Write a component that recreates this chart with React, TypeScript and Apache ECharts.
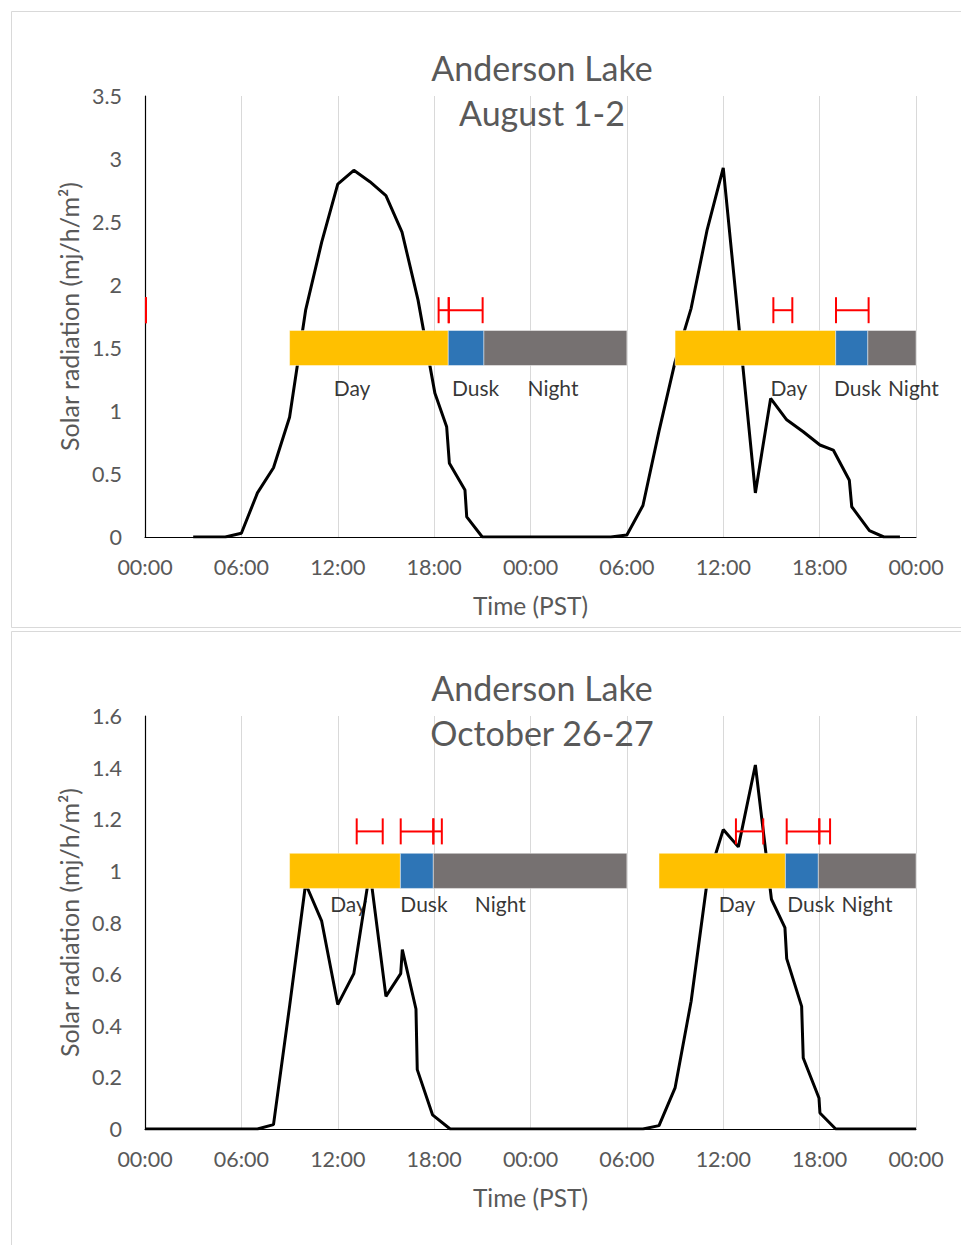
import React, { useEffect, useRef } from "react";
import * as echarts from "echarts";

// ---------- data: August 1-2 ----------
const augHours = [3, 5, 6, 7, 8, 9, 10, 11, 12, 13, 14, 15, 16, 17, 18.05, 18.78, 18.95, 19.92, 20.03, 21, 22, 29, 30, 31, 32, 33, 34, 35, 36, 38, 38.95, 39.95, 40.98, 42.02, 42.85, 43.85, 44, 45.1, 46, 47];
const augRadiation = [0, 0, 0.03, 0.35, 0.55, 0.95, 1.8, 2.34, 2.8, 2.91, 2.82, 2.71, 2.42, 1.88, 1.14, 0.875, 0.585, 0.373, 0.16, 0, 0, 0, 0.016, 0.25, 0.84, 1.39, 1.815, 2.44, 2.93, 0.35, 1.1, 0.93, 0.835, 0.73, 0.69, 0.45, 0.24, 0.05, 0, 0];

const augPhaseStart = [9.0, 18.88, 21.1, 33.0, 43.0, 45.0];
const augPhaseEnd = [18.88, 21.1, 30.0, 43.0, 45.0, 48.0];
const augPhaseName = ["Day", "Dusk", "Night", "Day", "Dusk", "Night"];
const augPhaseLevel = 1.5;
const augPhaseHalf = 0.139;

const augErrLow = [0.06, 18.28, 18.91, 39.12, 43.02];
const augErrHigh = [0.06, 18.91, 21.02, 40.3, 45.05];
const augErrLevel = 1.8;

const augLabelText = ["Day", "Dusk", "Night", "Day", "Dusk", "Night"];
const augLabelHours = [12.89, 20.58, 25.4, 40.09, 44.36, 47.84];
const augLabelLevel = 1.19;

// ---------- data: October 26-27 ----------
const octHours = [0, 7, 8, 9, 10, 11, 12, 13, 14, 15, 15.92, 16.02, 16.87, 16.95, 17.9, 19, 31, 32, 33, 34, 35, 36, 36.94, 38, 39, 39.84, 39.95, 40.88, 40.98, 41.96, 42.02, 43, 48];
const octRadiation = [0, 0, 0.017, 0.475, 0.95, 0.805, 0.482, 0.602, 1.0, 0.514, 0.602, 0.695, 0.465, 0.23, 0.055, 0, 0, 0.013, 0.159, 0.495, 0.96, 1.16, 1.093, 1.41, 0.89, 0.78, 0.66, 0.475, 0.275, 0.12, 0.062, 0, 0];

const octPhaseStart = [9.0, 15.9, 17.95, 32.0, 39.87, 41.92];
const octPhaseEnd = [15.9, 17.95, 30.0, 39.87, 41.92, 48.0];
const octPhaseName = ["Day", "Dusk", "Night", "Day", "Dusk", "Night"];
const octPhaseLevel = 1.0;
const octPhaseHalf = 0.068;

const octErrLow = [13.18, 15.92, 17.95, 36.79, 39.95, 41.98];
const octErrHigh = [14.8, 17.95, 18.48, 38.49, 41.98, 42.65];
const octErrLevel = 1.153;

const octLabelText = ["Day", "Dusk", "Night", "Day", "Dusk", "Night"];
const octLabelHours = [12.67, 17.37, 22.12, 36.86, 41.46, 44.95];
const octLabelLevel = 0.873;

// ---------- styling ----------
const FONT = "Lato";
const GREY_TEXT = "#595959";
const BORDER = "#d9d9d9";
const phaseColors: Record<string, string> = { Day: "#FFC000", Dusk: "#2E75B6", Night: "#767171" };

const zip = (xs: number[], ys: number[]) => xs.map((x, i) => [x, ys[i]]);

function hourLabel(v: number) {
  const h = v % 24;
  return (h < 10 ? "0" : "") + h + ":00";
}

function phaseSeries(idx: number, starts: number[], ends: number[], names: string[], level: number, half: number) {
  return {
    type: "custom",
    xAxisIndex: idx,
    yAxisIndex: idx,
    z: 3,
    encode: { x: [0, 1], y: 2 },
    data: starts.map((s, i) => [s, ends[i], level, half]),
    renderItem: (params: any, api: any) => {
      const s = api.value(0);
      const e = api.value(1);
      const lv = api.value(2);
      const hf = api.value(3);
      const name = names[params.dataIndex];
      const p1 = api.coord([s, lv + hf]);
      const p2 = api.coord([e, lv - hf]);
      return {
        type: "rect",
        shape: { x: p1[0], y: p1[1], width: p2[0] - p1[0], height: p2[1] - p1[1] },
        style: { fill: phaseColors[name], stroke: "rgba(255,255,255,0.6)", lineWidth: 0.75 },
      };
    },
  };
}

function errorSeries(idx: number, lows: number[], highs: number[], level: number) {
  return {
    type: "custom",
    xAxisIndex: idx,
    yAxisIndex: idx,
    z: 4,
    encode: { x: [0, 1], y: 2 },
    data: lows.map((l, i) => [l, highs[i], level]),
    renderItem: (params: any, api: any) => {
      const a = api.coord([api.value(0), api.value(2)]);
      const b = api.coord([api.value(1), api.value(2)]);
      const cap = 13;
      const st = { stroke: "#FF0000", lineWidth: 2 };
      return {
        type: "group",
        children: [
          { type: "line", shape: { x1: a[0], y1: a[1], x2: b[0], y2: b[1] }, style: st },
          { type: "line", shape: { x1: a[0], y1: a[1] - cap, x2: a[0], y2: a[1] + cap }, style: st },
          { type: "line", shape: { x1: b[0], y1: b[1] - cap, x2: b[0], y2: b[1] + cap }, style: st },
        ],
      };
    },
  };
}

function labelSeries(idx: number, hours: number[], texts: string[], level: number) {
  return {
    type: "scatter",
    xAxisIndex: idx,
    yAxisIndex: idx,
    z: 5,
    symbolSize: 1,
    itemStyle: { color: "rgba(0,0,0,0)" },
    data: hours.map((h, i) => [h, level, texts[i]]),
    label: {
      show: true,
      position: "inside",
      formatter: (p: any) => p.value[2],
      color: "#000",
      fontSize: 21,
      fontFamily: FONT,
    },
    silent: true,
  };
}

function lineSeries(idx: number, xs: number[], ys: number[]) {
  return {
    type: "line",
    xAxisIndex: idx,
    yAxisIndex: idx,
    z: 2,
    symbol: "none",
    lineStyle: { color: "#000", width: 3 },
    data: zip(xs, ys),
  };
}

function xAxisDef(idx: number) {
  return {
    type: "value",
    gridIndex: idx,
    min: 0,
    max: 48,
    interval: 6,
    name: "Time (PST)",
    nameLocation: "middle",
    nameGap: 56,
    nameTextStyle: { fontSize: 24.5, color: GREY_TEXT, fontFamily: FONT },
    axisLine: { show: true, onZero: false, lineStyle: { color: "#000", width: 1.2 } },
    axisTick: { show: false },
    axisLabel: { formatter: hourLabel, fontSize: 21.5, color: GREY_TEXT, fontFamily: FONT, margin: 19 },
    splitLine: { show: true, lineStyle: { color: BORDER, width: 1 } },
  };
}

function yAxisDef(idx: number, max: number, interval: number) {
  return {
    type: "value",
    gridIndex: idx,
    min: 0,
    max,
    interval,
    name: "Solar radiation (mj/h/m²)",
    nameLocation: "middle",
    nameGap: 63,
    nameTextStyle: { fontSize: 25, color: GREY_TEXT, fontFamily: FONT },
    axisLine: { show: true, lineStyle: { color: "#000", width: 1.2 } },
    axisTick: { show: false },
    axisLabel: { fontSize: 21.5, color: GREY_TEXT, fontFamily: FONT, margin: 23 },
    splitLine: { show: false },
  };
}

function frame(top: number, bottom: number) {
  const st = { stroke: BORDER, lineWidth: 1 };
  return [
    { type: "line", silent: true, shape: { x1: 11.5, y1: top, x2: 1200, y2: top }, style: st },
    { type: "line", silent: true, shape: { x1: 11.5, y1: top, x2: 11.5, y2: bottom }, style: st },
    { type: "line", silent: true, shape: { x1: 11.5, y1: bottom, x2: 1200, y2: bottom }, style: st },
  ];
}

export default function App() {
  const ref = useRef<HTMLDivElement>(null);

  useEffect(() => {
    if (!ref.current) return;
    const chart = echarts.init(ref.current, null, { renderer: "svg" });
    const titleStyle = { fontSize: 34, fontWeight: "normal", color: GREY_TEXT, fontFamily: FONT, lineHeight: 45 };
    chart.setOption({
      animation: false,
      backgroundColor: "#fff",
      title: [
        { text: "Anderson Lake\nAugust 1-2", left: 537, top: 40, textAlign: "center", textStyle: titleStyle },
        { text: "Anderson Lake\nOctober 26-27", left: 537, top: 660, textAlign: "center", textStyle: titleStyle },
      ],
      graphic: [...frame(11.5, 627.5), ...frame(631.5, 1400)],
      grid: [
        { left: 145, top: 96, width: 771, height: 441 },
        { left: 145, top: 716, width: 771, height: 413 },
      ],
      xAxis: [xAxisDef(0), xAxisDef(1)],
      yAxis: [yAxisDef(0, 3.5, 0.5), yAxisDef(1, 1.6, 0.2)],
      series: [
        lineSeries(0, augHours, augRadiation),
        phaseSeries(0, augPhaseStart, augPhaseEnd, augPhaseName, augPhaseLevel, augPhaseHalf),
        errorSeries(0, augErrLow, augErrHigh, augErrLevel),
        labelSeries(0, augLabelHours, augLabelText, augLabelLevel),
        lineSeries(1, octHours, octRadiation),
        phaseSeries(1, octPhaseStart, octPhaseEnd, octPhaseName, octPhaseLevel, octPhaseHalf),
        errorSeries(1, octErrLow, octErrHigh, octErrLevel),
        labelSeries(1, octLabelHours, octLabelText, octLabelLevel),
      ],
    });
    return () => chart.dispose();
  }, []);

  return <div ref={ref} style={{ position: "absolute", left: 0, top: 0, width: 961, height: 1245 }} />;
}
